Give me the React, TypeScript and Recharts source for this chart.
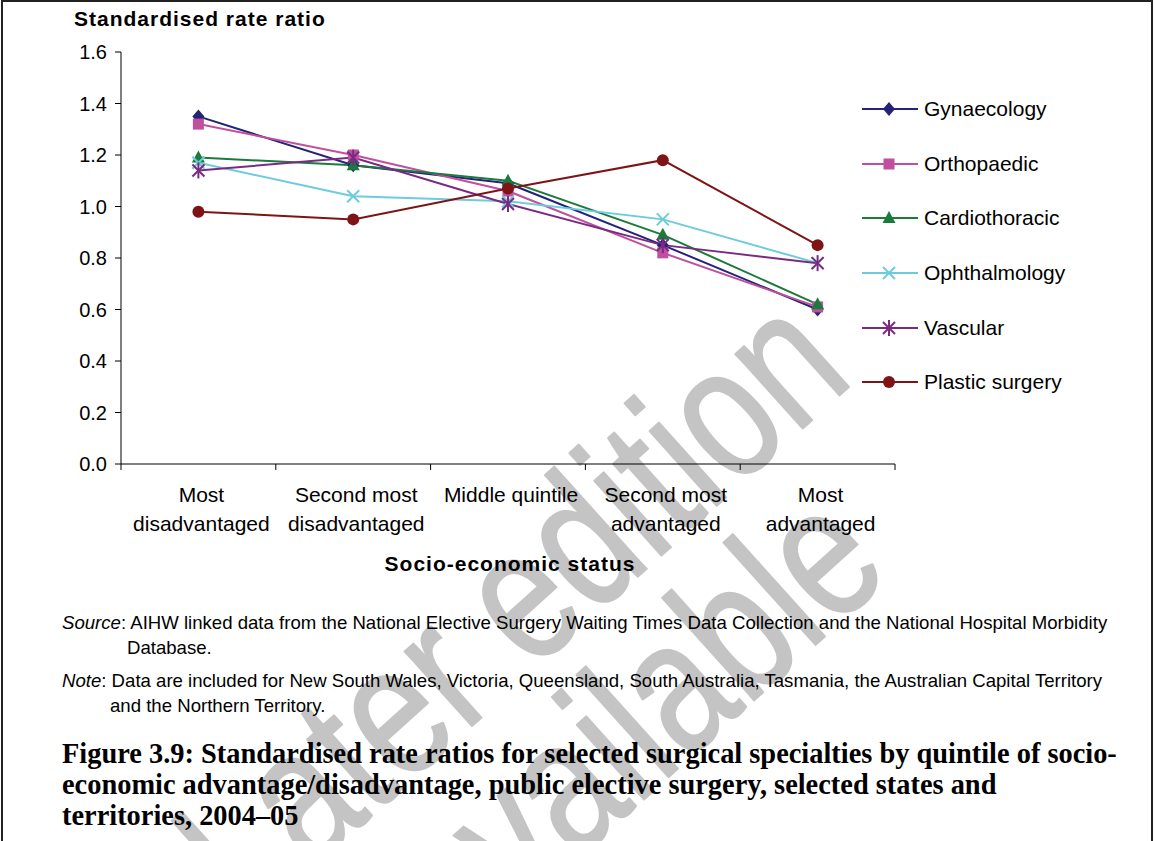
import React from 'react';
import { LineChart, Line, XAxis, YAxis } from 'recharts';

const categories = ['Most|disadvantaged', 'Second most|disadvantaged', 'Middle quintile', 'Second most|advantaged', 'Most|advantaged'];
const yTicks = [0, 0.2, 0.4, 0.6, 0.8, 1.0, 1.2, 1.4, 1.6];

const gynaecology = [1.35, 1.16, 1.09, 0.85, 0.6];
const orthopaedic = [1.32, 1.2, 1.06, 0.82, 0.61];
const cardiothoracic = [1.19, 1.16, 1.1, 0.89, 0.62];
const ophthalmology = [1.17, 1.04, 1.02, 0.95, 0.78];
const vascular = [1.14, 1.19, 1.01, 0.85, 0.78];
const plasticSurgery = [0.98, 0.95, 1.07, 1.18, 0.85];

const series = [
  { key: 'Gynaecology', values: gynaecology, color: '#232377', shape: 'diamond' },
  { key: 'Orthopaedic', values: orthopaedic, color: '#C0509E', shape: 'square' },
  { key: 'Cardiothoracic', values: cardiothoracic, color: '#1C7A3C', shape: 'triangle' },
  { key: 'Ophthalmology', values: ophthalmology, color: '#6DCCDC', shape: 'x' },
  { key: 'Vascular', values: vascular, color: '#7A2A82', shape: 'star' },
  { key: 'Plastic surgery', values: plasticSurgery, color: '#7E1416', shape: 'circle' },
];

const data = categories.map((c, i) => {
  const row: any = { name: c };
  series.forEach(s => { row[s.key] = s.values[i]; });
  return row;
});

const PLOT_LEFT = 121;
const PLOT_W = 774;
const HALF_BAND = PLOT_W / categories.length / 2;
const FONT = '"Liberation Sans", Arial, sans-serif';

const Marker = ({ cx, cy, shape, color }: any) => {
  if (cx == null || cy == null) return null;
  const r = 6;
  switch (shape) {
    case 'diamond':
      return <polygon points={`${cx},${cy - r - 1} ${cx + r},${cy} ${cx},${cy + r + 1} ${cx - r},${cy}`} fill={color} />;
    case 'square':
      return <rect x={cx - 5.5} y={cy - 5.5} width={11} height={11} fill={color} />;
    case 'triangle':
      return <polygon points={`${cx},${cy - 7} ${cx + 6.5},${cy + 5} ${cx - 6.5},${cy + 5}`} fill={color} />;
    case 'x':
      return (
        <g stroke={color} strokeWidth={2}>
          <line x1={cx - 6} y1={cy - 6} x2={cx + 6} y2={cy + 6} />
          <line x1={cx - 6} y1={cy + 6} x2={cx + 6} y2={cy - 6} />
        </g>
      );
    case 'star':
      return (
        <g stroke={color} strokeWidth={2}>
          <line x1={cx - 6} y1={cy - 6} x2={cx + 6} y2={cy + 6} />
          <line x1={cx - 6} y1={cy + 6} x2={cx + 6} y2={cy - 6} />
          <line x1={cx} y1={cy - 8} x2={cx} y2={cy + 8} />
        </g>
      );
    default:
      return <circle cx={cx} cy={cy} r={6} fill={color} />;
  }
};

const XTick = ({ x, y, payload, index }: any) => {
  const lines = String(payload.value).split('|');
  return (
    <g>
      <line x1={x + HALF_BAND} y1={y} x2={x + HALF_BAND} y2={y + 6} stroke="#000" />
      {index === 0 && <line x1={x - HALF_BAND} y1={y} x2={x - HALF_BAND} y2={y + 6} stroke="#000" />}
      {lines.map((l, i) => (
        <text key={i} x={x + 3} y={y + 38 + i * 29} textAnchor="middle" fontSize={21} fontFamily={FONT} fill="#000">
          {l}
        </text>
      ))}
    </g>
  );
};

const ChartLegend = () => (
  <div style={{ position: 'absolute', left: 861, top: 82, fontFamily: FONT, fontSize: 21, color: '#000' }}>
    {series.map(s => (
      <div key={s.key} style={{ display: 'flex', alignItems: 'center', height: 54.6 }}>
        <svg width={58} height={20} style={{ marginRight: 5 }}>
          <line x1={1} y1={10} x2={57} y2={10} stroke={s.color} strokeWidth={2} />
          <Marker cx={28} cy={10} shape={s.shape} color={s.color} />
        </svg>
        <span>{s.key}</span>
      </div>
    ))}
  </div>
);

// faint "later edition" stamp across the page
const Stamp = () => (
  <svg width={1155} height={841} style={{ position: 'absolute', left: 0, top: 0 }}>
    <g fill="#C4C4C4" stroke="#C4C4C4" strokeWidth={2} strokeLinejoin="round" fontFamily={FONT} fontSize={190}>
      <g transform="translate(250 926) rotate(-42) scale(0.78 1)">
        <text x={0} y={0}>Later edition</text>
      </g>
      <g transform="translate(459 966) rotate(-42) scale(0.78 1)">
        <text x={0} y={0}>available</text>
      </g>
    </g>
  </svg>
);

const App = () => {
  return (
    <div style={{ position: 'absolute', left: 0, top: 0, width: 1155, height: 841, background: '#fff', overflow: 'hidden' }}>
      <Stamp />
      <div style={{ position: 'absolute', left: 1, top: 0, width: 1148, height: 845, borderLeft: '2px solid #222', borderTop: '2px solid #222', borderRight: '2px solid #222' }} />
      <div style={{ position: 'absolute', left: 74, top: 7, fontFamily: FONT, fontWeight: 'bold', fontSize: 21, letterSpacing: 1 }}>
        Standardised rate ratio
      </div>
      <div style={{ position: 'absolute', left: 0, top: 0 }}>
        <LineChart width={1155} height={600} data={data} margin={{ top: 52, right: 260, left: PLOT_LEFT - 60, bottom: 56 }}>
          <XAxis
            dataKey="name"
            interval={0}
            padding={{ left: HALF_BAND, right: HALF_BAND }}
            height={80}
            tickSize={0}
            tickMargin={0}
            tickLine={false}
            axisLine={{ stroke: '#000' }}
            tick={<XTick />}
          />
          <YAxis
            width={60}
            domain={[0, 1.6]}
            ticks={yTicks}
            tickFormatter={(v: number) => v.toFixed(1)}
            tickSize={6}
            tickMargin={8}
            axisLine={{ stroke: '#000' }}
            tickLine={{ stroke: '#000' }}
            tick={{ fontSize: 20, fill: '#000', fontFamily: FONT }}
          />
          {series.map(s => (
            <Line
              key={s.key}
              dataKey={s.key}
              stroke={s.color}
              strokeWidth={2}
              isAnimationActive={false}
              dot={(p: any) => <Marker key={p.index} cx={p.cx} cy={p.cy} shape={s.shape} color={s.color} />}
              activeDot={false}
            />
          ))}
        </LineChart>
      </div>
      <ChartLegend />
      <div style={{ position: 'absolute', left: 0, top: 552, width: 1020, textAlign: 'center', fontFamily: FONT, fontWeight: 'bold', fontSize: 21, letterSpacing: 1 }}>
        Socio-economic status
      </div>
      <div style={{ position: 'absolute', left: 62, top: 610, fontFamily: FONT, fontSize: 18.6, lineHeight: '25px', whiteSpace: 'nowrap' }}>
        <div><i>Source</i>: AIHW linked data from the National Elective Surgery Waiting Times Data Collection and the National Hospital Morbidity</div>
        <div style={{ paddingLeft: 65 }}>Database.</div>
        <div style={{ marginTop: 8 }}><i>Note</i>: Data are included for New South Wales, Victoria, Queensland, South Australia, Tasmania, the Australian Capital Territory</div>
        <div style={{ paddingLeft: 48 }}>and the Northern Territory.</div>
      </div>
      <div style={{ position: 'absolute', left: 62, top: 738, fontFamily: '"Liberation Serif", "DejaVu Serif", serif', fontWeight: 'bold', fontSize: 28.4, lineHeight: '31px', whiteSpace: 'nowrap' }}>
        <div>Figure 3.9: Standardised rate ratios for selected surgical specialties by quintile of socio-</div>
        <div>economic advantage/disadvantage, public elective surgery, selected states and</div>
        <div>territories, 2004–05</div>
      </div>
    </div>
  );
};

export default App;
